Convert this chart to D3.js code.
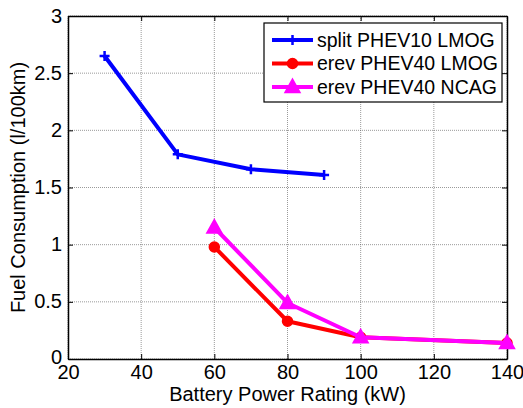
<!DOCTYPE html>
<html>
<head>
<script src="https://d3js.org/d3.v7.min.js"></script>
<style>
  body { margin: 0; background: #fff; }
  text { font-family: "Liberation Sans", Arial, sans-serif; fill: #000; }
</style>
</head>
<body>
<script>
// data
var splitX = [30, 50, 70, 90];
var splitY = [2.65, 1.79, 1.66, 1.61];
var lmogX = [60, 80, 100, 140];
var lmogY = [0.98, 0.33, 0.19, 0.14];
var ncagX = [60, 80, 100, 140];
var ncagY = [1.15, 0.49, 0.19, 0.14];
var xTicks = [20, 40, 60, 80, 100, 120, 140];
var yTicks = [0, 0.5, 1, 1.5, 2, 2.5, 3];
var legendNames = ["split PHEV10 LMOG", "erev PHEV40 LMOG", "erev PHEV40 NCAG"];

var W = 523, H = 408;
var margin = {top: 16, right: 16, bottom: 49, left: 68};
var width = W - margin.left - margin.right;
var height = H - margin.top - margin.bottom;

var svg = d3.select("body").append("svg")
    .attr("width", W).attr("height", H);
var g = svg.append("g")
    .attr("transform", "translate(" + margin.left + "," + margin.top + ")");

var x = d3.scaleLinear().domain([20, 140]).range([0, width]);
var y = d3.scaleLinear().domain([0, 3]).range([height, 0]);

// grid
g.selectAll(".vgrid").data(xTicks).enter().append("line")
    .attr("x1", d => x(d)).attr("x2", d => x(d))
    .attr("y1", 0).attr("y2", height)
    .attr("stroke", "#555").attr("stroke-width", 0.6).attr("stroke-dasharray", "1,1");
g.selectAll(".hgrid").data(yTicks).enter().append("line")
    .attr("y1", d => y(d)).attr("y2", d => y(d))
    .attr("x1", 0).attr("x2", width)
    .attr("stroke", "#555").attr("stroke-width", 0.6).attr("stroke-dasharray", "1,1");

// axes (ticks inside, all four sides)
var fs = "20px";
var xb = g.append("g").attr("transform", "translate(0," + height + ")")
    .call(d3.axisBottom(x).tickValues(xTicks).tickSizeInner(-5).tickSizeOuter(0));
var xt = g.append("g")
    .call(d3.axisTop(x).tickValues(xTicks).tickSizeInner(-5).tickSizeOuter(0).tickFormat(""));
var yl = g.append("g")
    .call(d3.axisLeft(y).tickValues(yTicks).tickSizeInner(-5).tickSizeOuter(0).tickPadding(6).tickFormat(d3.format("")));
var yr = g.append("g").attr("transform", "translate(" + width + ",0)")
    .call(d3.axisRight(y).tickValues(yTicks).tickSizeInner(-5).tickSizeOuter(0).tickFormat(""));
[xb, xt, yl, yr].forEach(function(a) {
  a.select(".domain").attr("stroke", "#000").attr("stroke-width", 1.5);
  a.selectAll(".tick line").attr("stroke", "#000");
  a.selectAll(".tick text").style("font-size", fs).attr("fill", "#000");
});
xb.selectAll(".tick text").attr("y", 20).attr("dy", 0);
yl.selectAll(".tick text").attr("dy", "0.3em");
yl.selectAll(".tick text").filter(d => d === 0).attr("dy", "0.2em");

// axis labels
svg.append("text").attr("x", margin.left + width / 2).attr("y", 401)
    .attr("text-anchor", "middle").style("font-size", "20px")
    .text("Battery Power Rating (kW)");
svg.append("text")
    .attr("transform", "translate(25," + (margin.top + height / 2) + ") rotate(-90)")
    .attr("text-anchor", "middle").style("font-size", "20px")
    .text("Fuel Consumption (l/100km)");

var line = d3.line().x(d => x(d[0])).y(d => y(d[1]));
var series = [
  {xs: splitX, ys: splitY, color: "#0000ff", marker: "plus"},
  {xs: lmogX, ys: lmogY, color: "#ff0000", marker: "circle"},
  {xs: ncagX, ys: ncagY, color: "#ff00ff", marker: "triangle"}
];

function drawMarker(sel, m, color) {
  if (m === "plus") {
    sel.append("path").attr("d", "M-5,0H5M0,-5V5")
      .attr("stroke", color).attr("stroke-width", 2.5).attr("fill", "none");
  } else if (m === "circle") {
    sel.append("circle").attr("r", 5).attr("fill", color)
      .attr("stroke", color).attr("stroke-width", 1.5);
  } else {
    sel.append("path").attr("d", "M0,-8L7.5,5.5L-7.5,5.5Z").attr("fill", color)
      .attr("stroke", color).attr("stroke-width", 1.5);
  }
}

var plot = g.append("g");
series.forEach(function(s) {
  var pts = s.xs.map((v, i) => [v, s.ys[i]]);
  plot.append("path").datum(pts).attr("d", line)
      .attr("fill", "none").attr("stroke", s.color).attr("stroke-width", 4)
      .attr("stroke-linejoin", "round");
  pts.forEach(function(p) {
    var mg = plot.append("g").attr("transform", "translate(" + x(p[0]) + "," + y(p[1]) + ")");
    drawMarker(mg, s.marker, s.color);
  });
});

// legend
var lg = svg.append("g").attr("transform", "translate(264,23)");
lg.append("rect").attr("width", 238).attr("height", 79)
    .attr("fill", "#fff").attr("stroke", "#000").attr("stroke-width", 1.2);
legendNames.forEach(function(name, i) {
  var yy = 17 + i * 23.5;
  var s = series[i];
  lg.append("line").attr("x1", 8).attr("x2", 49).attr("y1", yy).attr("y2", yy)
    .attr("stroke", s.color).attr("stroke-width", 4);
  var mg = lg.append("g").attr("transform", "translate(28.5," + yy + ")");
  drawMarker(mg, s.marker, s.color);
  lg.append("text").attr("x", 53).attr("y", yy).attr("dy", "0.35em")
    .style("font-size", "19.5px").text(name);
});
</script>
</body>
</html>
